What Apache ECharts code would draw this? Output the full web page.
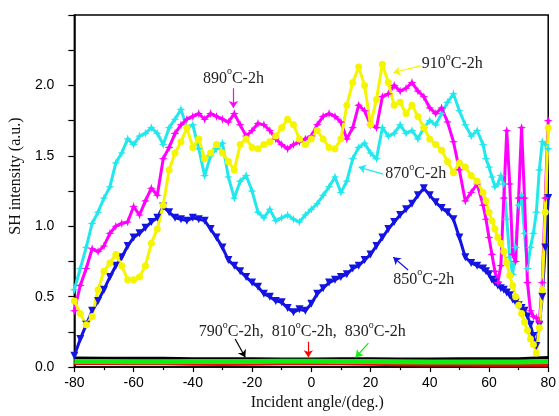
<!DOCTYPE html>
<html>
<head>
<meta charset="utf-8">
<script src="https://cdn.jsdelivr.net/npm/echarts@6/dist/echarts.min.js"></script>
<style>
    html, body { margin: 0; padding: 0; background: #fff; }
    #main { width: 559px; height: 416px; }
</style>
</head>
<body>
<div id="main"></div>
<script>
// incident angle (deg.), step 2 then step 1 near the edge
var angles = [-80, -78, -76, -74, -72, -70, -68, -66, -64, -62,
    -60, -58, -56, -54, -52, -50, -48, -46, -44, -42,
    -40, -38, -36, -34, -32, -30, -28, -26, -24, -22,
    -20, -18, -16, -14, -12, -10, -8, -6, -4, -2,
    0, 2, 4, 6, 8, 10, 12, 14, 16, 18,
    20, 22, 24, 26, 28, 30, 32, 34, 36, 38,
    40, 42, 44, 46, 48, 50, 52, 54, 56, 58,
    59, 60, 61, 62, 63, 64, 65, 66, 67, 68, 69, 70,
    71, 72, 73, 74, 75, 76, 77, 78, 79, 80];

var s850 = [0.08, 0.20, 0.30, 0.40, 0.47, 0.55, 0.64, 0.72, 0.78, 0.86,
    0.92, 0.95, 0.99, 1.03, 1.06, 1.14, 1.10, 1.06, 1.05, 1.04,
    1.06, 1.05, 1.04, 0.98, 0.92, 0.85, 0.76, 0.72, 0.68, 0.64,
    0.60, 0.57, 0.52, 0.50, 0.47, 0.46, 0.42, 0.39, 0.41, 0.40,
    0.45, 0.52, 0.56, 0.60, 0.62, 0.64, 0.66, 0.70, 0.72, 0.76,
    0.80, 0.86, 0.92, 0.98, 1.03, 1.08, 1.12, 1.16, 1.22, 1.27,
    1.22, 1.17, 1.13, 1.10, 1.05, 0.92, 0.78, 0.74, 0.72, 0.70,
    0.68, 0.66, 0.62, 0.60, 0.58, 0.56, 0.55, 0.53, 0.51, 0.48, 0.46, 0.44,
    0.42, 0.40, 0.36, 0.30, 0.22, 0.15, 0.30, 0.50, 0.85, 1.20];

var s870 = [0.55, 0.70, 0.85, 1.02, 1.10, 1.20, 1.28, 1.45, 1.52, 1.62,
    1.58, 1.64, 1.66, 1.70, 1.66, 1.58, 1.70, 1.76, 1.83, 1.70,
    1.72, 1.55, 1.36, 1.50, 1.55, 1.59, 1.35, 1.20, 1.32, 1.36,
    1.25, 1.10, 1.06, 1.12, 1.04, 1.06, 1.08, 1.05, 1.03, 1.08,
    1.12, 1.16, 1.22, 1.28, 1.35, 1.24, 1.32, 1.48, 1.56, 1.59,
    1.52, 1.48, 1.70, 1.64, 1.66, 1.72, 1.66, 1.68, 1.62, 1.70,
    1.75, 1.72, 1.80, 1.88, 1.94, 1.82, 1.72, 1.64, 1.68, 1.58,
    1.48, 1.42, 1.35, 1.28, 1.30, 1.36, 1.30, 1.05, 0.78, 0.66, 0.85, 1.15,
    1.22, 0.95, 0.70, 0.85, 0.95, 1.10, 1.40, 1.60, 1.58, 1.55];

var s890 = [0.40, 0.58, 0.70, 0.84, 0.82, 0.86, 0.95, 1.00, 1.02, 1.03,
    1.14, 1.08, 1.18, 1.27, 1.22, 1.48, 1.56, 1.66, 1.72, 1.76,
    1.78, 1.80, 1.76, 1.80, 1.78, 1.76, 1.74, 1.80, 1.72, 1.64,
    1.68, 1.73, 1.72, 1.68, 1.62, 1.58, 1.55, 1.58, 1.60, 1.62,
    1.64, 1.72, 1.78, 1.80, 1.78, 1.74, 1.62, 1.70, 1.86, 1.82,
    1.72, 1.70, 1.92, 1.94, 2.00, 1.96, 1.98, 2.02, 1.96, 1.92,
    1.84, 1.80, 1.84, 1.74, 1.60, 1.40, 1.18, 1.24, 1.30, 1.15,
    1.05, 0.92, 0.80, 0.68, 0.60, 0.72, 1.20, 1.68, 1.30, 0.80, 0.75, 1.20,
    1.70, 1.20, 0.60, 0.40, 0.36, 0.35, 0.32, 0.60, 1.20, 1.75];

var s910 = [0.47, 0.38, 0.30, 0.36, 0.55, 0.68, 0.74, 0.80, 0.72, 0.62,
    0.62, 0.64, 0.72, 0.88, 0.98, 1.15, 1.40, 1.52, 1.60, 1.70,
    1.56, 1.62, 1.48, 1.52, 1.58, 1.52, 1.46, 1.40, 1.58, 1.62,
    1.56, 1.55, 1.58, 1.60, 1.64, 1.70, 1.76, 1.72, 1.62, 1.58,
    1.62, 1.68, 1.62, 1.56, 1.55, 1.62, 1.86, 2.02, 2.13, 2.00,
    1.72, 1.90, 2.15, 2.02, 1.86, 1.88, 1.80, 1.86, 1.78, 1.70,
    1.62, 1.58, 1.54, 1.46, 1.38, 1.45, 1.42, 1.36, 1.32, 1.24,
    1.18, 1.10, 1.04, 0.98, 0.92, 0.88, 0.82, 0.74, 0.65, 0.58, 0.50, 0.44,
    0.38, 0.32, 0.26, 0.20, 0.16, 0.10, 0.28, 0.55, 1.10, 1.70];

// low temperature samples, nearly flat
var baseAngles = [-80, -70, -60, -50, -40, -30, -20, -10, 0, 10, 20, 30, 40, 50, 60, 70, 80];
var s790 = [0.065, 0.063, 0.062, 0.062, 0.060, 0.060, 0.060, 0.058, 0.058, 0.060, 0.060, 0.058, 0.058, 0.060, 0.060, 0.060, 0.068];
var s810 = [0.026, 0.026, 0.024, 0.024, 0.020, 0.018, 0.020, 0.024, 0.026, 0.024, 0.020, 0.016, 0.015, 0.015, 0.014, 0.014, 0.013];
var s830 = [0.040, 0.040, 0.038, 0.038, 0.040, 0.040, 0.040, 0.042, 0.042, 0.040, 0.040, 0.038, 0.036, 0.036, 0.036, 0.036, 0.040];

var serif = '"Liberation Serif", "DejaVu Serif", serif';
var sans = '"Liberation Sans", Arial, sans-serif';

function pairs(xs, ys) {
    var out = [];
    for (var i = 0; i < xs.length; i++) {
        out.push([xs[i], ys[i]]);
    }
    return out;
}

function arrow(x1, y1, x2, y2) {
    return [{ coord: [x1, y1] }, { coord: [x2, y2] }];
}

function makeSeries(name, xs, ys, color, symbol, size, rotate, width, arrows) {
    var s = {
        name: name,
        type: 'line',
        data: pairs(xs, ys),
        symbol: symbol,
        symbolSize: size,
        symbolRotate: rotate || 0,
        lineStyle: { color: color, width: width },
        itemStyle: { color: color },
        animation: false,
        silent: true
    };
    if (arrows) {
        s.markLine = {
            silent: true,
            symbol: ['none', 'arrow'],
            symbolSize: 7,
            label: { show: false },
            lineStyle: { color: color, width: 1.2, type: 'solid' },
            data: arrows
        };
    }
    return s;
}

var star = 'path://M0,-5L1.2,-1.2L5,0L1.2,1.2L0,5L-1.2,1.2L-5,0L-1.2,-1.2Z';

var myChart = echarts.init(document.getElementById('main'));
var option = {
    backgroundColor: '#fff',
    grid: {
        left: 72, right: 6, top: 15, bottom: 45,
        show: true, borderColor: '#000', borderWidth: 1.5
    },
    xAxis: {
        type: 'value',
        min: -80, max: 80, interval: 20,
        name: 'Incident angle/(deg.)',
        nameLocation: 'middle',
        nameGap: 25,
        nameTextStyle: { fontFamily: serif, fontSize: 16, color: '#111', padding: [0, 0, 0, 12] },
        axisLine: { onZero: false, lineStyle: { color: '#000', width: 1.5 } },
        axisTick: { length: 5, lineStyle: { color: '#000', width: 1.2 } },
        minorTick: { show: true, splitNumber: 2, length: 3, lineStyle: { color: '#000', width: 1.2 } },
        axisLabel: { fontFamily: sans, fontSize: 14, color: '#000', margin: 9 },
        splitLine: { show: false }
    },
    yAxis: {
        type: 'value',
        min: 0, max: 2.5, interval: 0.25,
        name: 'SH intensity (a.u.)',
        nameLocation: 'middle',
        nameGap: 44,
        nameTextStyle: { fontFamily: serif, fontSize: 16, color: '#111', padding: [0, 0, 0, 30] },
        axisLine: { onZero: false, lineStyle: { color: '#000', width: 1.5 } },
        axisTick: { length: 6, lineStyle: { color: '#000', width: 1.2 } },
        axisLabel: {
            fontFamily: sans, fontSize: 14, color: '#000', margin: 20,
            formatter: function (v) {
                if (v < 2.4 && Math.abs(v * 2 - Math.round(v * 2)) < 1e-6) {
                    return v.toFixed(1);
                }
                return '';
            }
        },
        splitLine: { show: false }
    },
    series: [
        makeSeries('790', baseAngles, s790, '#000000', 'none', 0, 0, 3, [arrow(-25.7, 0.20, -22.3, 0.07)]),
        makeSeries('810', baseAngles, s810, '#ff0000', 'none', 0, 0, 3, [arrow(-1, 0.18, -1, 0.07)]),
        makeSeries('830', baseAngles, s830, '#11ee11', 'none', 0, 0, 5, [arrow(19.3, 0.17, 15, 0.07)]),
        makeSeries('850', angles, s850, '#1414e0', 'triangle', 8, 180, 3, [arrow(32.7, 0.69, 27.7, 0.78)]),
        makeSeries('870', angles, s870, '#22e8ee', star, 9, 0, 3, [arrow(24.3, 1.37, 16, 1.42)]),
        makeSeries('890', angles, s890, '#ff00ff', star, 9, 0, 3, [arrow(-26.3, 1.98, -26.3, 1.84)]),
        makeSeries('910', angles, s910, '#f5f500', 'circle', 7, 0, 3, [arrow(37, 2.14, 27.7, 2.09)])
    ]
};
myChart.setOption(option);

// series labels with a raised "o" for the degree sign
var notes = [
    { parts: ['890'], x: -26.3, y: 2.05, align: 'center' },
    { parts: ['910'], x: 37.3, y: 2.15, align: 'left' },
    { parts: ['870'], x: 25, y: 1.37, align: 'left' },
    { parts: ['850'], x: 27.7, y: 0.62, align: 'left' },
    { parts: ['790', '810', '830'], x: -38, y: 0.25, align: 'left' }
];

function richText(parts) {
    var t = '';
    for (var i = 0; i < parts.length; i++) {
        if (i > 0) t += '{n|,  }';
        t += '{n|' + parts[i] + '}{s|o}{n|C-2h}';
    }
    return t;
}

var graphics = [];
for (var i = 0; i < notes.length; i++) {
    var p = myChart.convertToPixel({ gridIndex: 0 }, [notes[i].x, notes[i].y]);
    graphics.push({
        type: 'text',
        x: p[0], y: p[1],
        silent: true,
        style: {
            text: richText(notes[i].parts),
            align: notes[i].align,
            verticalAlign: 'middle',
            fill: '#222',
            rich: {
                n: { fontFamily: serif, fontSize: 16, color: '#222', lineHeight: 18 },
                s: { fontFamily: serif, fontSize: 10, color: '#222', lineHeight: 4, padding: [0, 0, 14, 0] }
            }
        }
    });
}
myChart.setOption({ graphic: graphics });
</script>
</body>
</html>
